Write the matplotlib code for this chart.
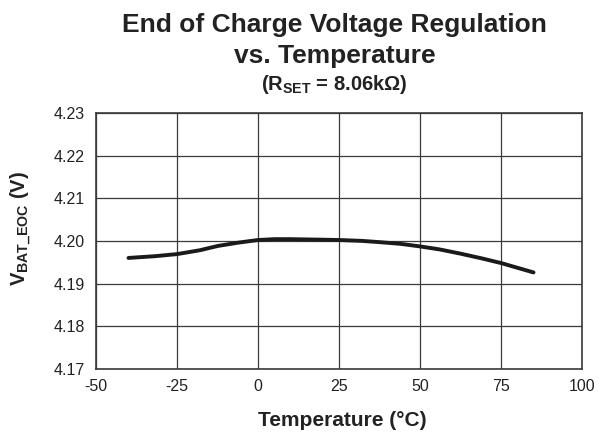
import matplotlib
matplotlib.use("Agg")
import matplotlib.pyplot as plt

# values
temperature_c = [-40, -32, -25, -18, -12.5, -6, 0, 5, 10, 18, 25, 32,
                 37.5, 44, 50, 56, 62.5, 69, 75, 80, 85]
v_bat_eoc = [4.1960, 4.1964, 4.1969, 4.1978, 4.1988, 4.1996, 4.2002, 4.2004,
             4.2004, 4.2003, 4.2002, 4.2000, 4.1997, 4.1993, 4.1987, 4.1980,
             4.1970, 4.1959, 4.1948, 4.1937, 4.1926]

x_ticks = [-50, -25, 0, 25, 50, 75, 100]
y_ticks = [4.17, 4.18, 4.19, 4.20, 4.21, 4.22, 4.23]

plt.rcParams["font.family"] = ["Liberation Sans", "DejaVu Sans"]
plt.rcParams["mathtext.fontset"] = "custom"
plt.rcParams["mathtext.rm"] = "Liberation Sans"
plt.rcParams["mathtext.bf"] = "Liberation Sans:bold"
plt.rcParams["mathtext.it"] = "Liberation Sans:italic"

TEXT = "#222222"

fig = plt.figure(figsize=(6.16, 4.34), dpi=100)
ax = fig.add_axes([0.156, 0.150, 0.789, 0.590])

ax.plot(temperature_c, v_bat_eoc, color="#1a1a1a", linewidth=2.8,
        solid_capstyle="round")

ax.set_xlim(-50, 100)
ax.set_ylim(4.17, 4.23)
ax.set_xticks(x_ticks)
ax.set_yticks(y_ticks)
ax.set_xticklabels([str(t) for t in x_ticks])
ax.set_yticklabels([f"{v:.2f}" for v in y_ticks])
ax.tick_params(length=0, labelsize=11.5, colors=TEXT)
ax.tick_params(axis="y", pad=8)
ax.tick_params(axis="x", pad=7)
ax.grid(True, color="#3a3a3a", linewidth=0.9)
for s in ax.spines.values():
    s.set_color("#3a3a3a")
    s.set_linewidth(1.2)

# axis labels placed in figure coordinates
fig.text(0.555, 1 - 421 / 434, "Temperature (°C)", ha="center", va="center",
         fontsize=15, fontweight="bold", color=TEXT)
fig.text(21 / 616, 1 - 229 / 434, r"$\mathbf{V_{BAT\_EOC}}$ (V)",
         ha="center", va="center", rotation=90, fontsize=14.5,
         fontweight="bold", color=TEXT)

fig.text(0.543, 1 - 32 / 434, "End of Charge Voltage Regulation",
         ha="center", va="baseline", fontsize=19, fontweight="bold",
         color=TEXT)
fig.text(0.543, 1 - 63 / 434, "vs. Temperature", ha="center",
         va="baseline", fontsize=19, fontweight="bold", color=TEXT)
fig.text(0.543, 1 - 90 / 434, r"($\mathbf{R_{SET}}$ = 8.06k$\mathbf{\Omega}$)",
         ha="center", va="baseline", fontsize=14.5, fontweight="bold",
         color=TEXT)

fig.savefig("out.png", dpi=100)
